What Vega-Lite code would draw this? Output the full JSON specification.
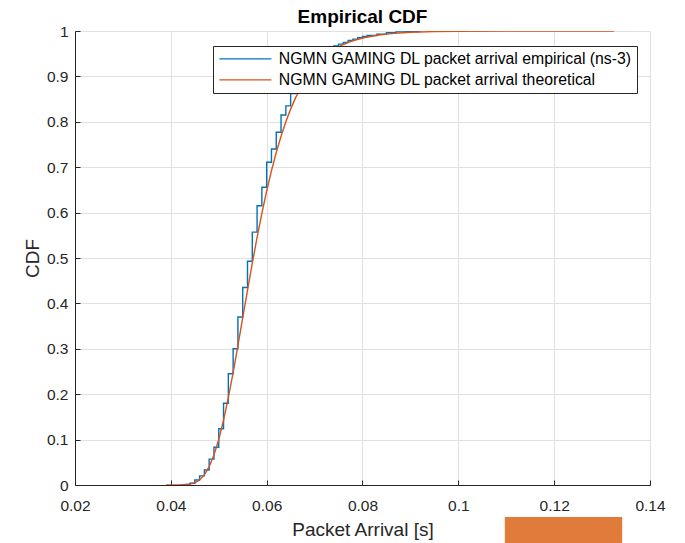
{
  "$schema": "https://vega.github.io/schema/vega-lite/v6.json",
  "autosize": "none",
  "width": 575,
  "height": 454,
  "padding": {"left": 75, "top": 31, "right": 35, "bottom": 58},
  "background": "white",
  "config": {
    "view": {"stroke": null},
    "font": "Liberation Sans",
    "axis": {
      "domainColor": "#262626",
      "tickColor": "#262626",
      "gridColor": "#e0e0e0",
      "labelColor": "#262626",
      "titleColor": "#262626",
      "labelFont": "Liberation Sans",
      "titleFont": "Liberation Sans",
      "labelFontSize": 15.5,
      "titleFontSize": 19,
      "titleFontWeight": "normal",
      "tickSize": -5,
      "domainWidth": 1,
      "tickWidth": 1
    }
  },
  "title": {
    "text": "Empirical CDF",
    "font": "Liberation Sans",
    "fontSize": 19,
    "fontWeight": "bold",
    "color": "#000000",
    "anchor": "middle",
    "offset": -3
  },
  "datasets": {
    "empirical": [
      {"x": 0.042, "y": 0.0, "series": "NGMN GAMING DL packet arrival empirical (ns-3)"},
      {"x": 0.043, "y": 0.001, "series": "NGMN GAMING DL packet arrival empirical (ns-3)"},
      {"x": 0.044, "y": 0.004, "series": "NGMN GAMING DL packet arrival empirical (ns-3)"},
      {"x": 0.045, "y": 0.011, "series": "NGMN GAMING DL packet arrival empirical (ns-3)"},
      {"x": 0.046, "y": 0.020, "series": "NGMN GAMING DL packet arrival empirical (ns-3)"},
      {"x": 0.047, "y": 0.033, "series": "NGMN GAMING DL packet arrival empirical (ns-3)"},
      {"x": 0.048, "y": 0.057, "series": "NGMN GAMING DL packet arrival empirical (ns-3)"},
      {"x": 0.049, "y": 0.083, "series": "NGMN GAMING DL packet arrival empirical (ns-3)"},
      {"x": 0.050, "y": 0.124, "series": "NGMN GAMING DL packet arrival empirical (ns-3)"},
      {"x": 0.051, "y": 0.180, "series": "NGMN GAMING DL packet arrival empirical (ns-3)"},
      {"x": 0.052, "y": 0.245, "series": "NGMN GAMING DL packet arrival empirical (ns-3)"},
      {"x": 0.053, "y": 0.300, "series": "NGMN GAMING DL packet arrival empirical (ns-3)"},
      {"x": 0.054, "y": 0.370, "series": "NGMN GAMING DL packet arrival empirical (ns-3)"},
      {"x": 0.055, "y": 0.435, "series": "NGMN GAMING DL packet arrival empirical (ns-3)"},
      {"x": 0.056, "y": 0.493, "series": "NGMN GAMING DL packet arrival empirical (ns-3)"},
      {"x": 0.057, "y": 0.557, "series": "NGMN GAMING DL packet arrival empirical (ns-3)"},
      {"x": 0.058, "y": 0.615, "series": "NGMN GAMING DL packet arrival empirical (ns-3)"},
      {"x": 0.059, "y": 0.656, "series": "NGMN GAMING DL packet arrival empirical (ns-3)"},
      {"x": 0.060, "y": 0.711, "series": "NGMN GAMING DL packet arrival empirical (ns-3)"},
      {"x": 0.061, "y": 0.740, "series": "NGMN GAMING DL packet arrival empirical (ns-3)"},
      {"x": 0.062, "y": 0.777, "series": "NGMN GAMING DL packet arrival empirical (ns-3)"},
      {"x": 0.063, "y": 0.815, "series": "NGMN GAMING DL packet arrival empirical (ns-3)"},
      {"x": 0.064, "y": 0.835, "series": "NGMN GAMING DL packet arrival empirical (ns-3)"},
      {"x": 0.065, "y": 0.862, "series": "NGMN GAMING DL packet arrival empirical (ns-3)"},
      {"x": 0.066, "y": 0.883, "series": "NGMN GAMING DL packet arrival empirical (ns-3)"},
      {"x": 0.067, "y": 0.902, "series": "NGMN GAMING DL packet arrival empirical (ns-3)"},
      {"x": 0.068, "y": 0.917, "series": "NGMN GAMING DL packet arrival empirical (ns-3)"},
      {"x": 0.069, "y": 0.930, "series": "NGMN GAMING DL packet arrival empirical (ns-3)"},
      {"x": 0.070, "y": 0.940, "series": "NGMN GAMING DL packet arrival empirical (ns-3)"},
      {"x": 0.071, "y": 0.949, "series": "NGMN GAMING DL packet arrival empirical (ns-3)"},
      {"x": 0.072, "y": 0.956, "series": "NGMN GAMING DL packet arrival empirical (ns-3)"},
      {"x": 0.073, "y": 0.962, "series": "NGMN GAMING DL packet arrival empirical (ns-3)"},
      {"x": 0.074, "y": 0.967, "series": "NGMN GAMING DL packet arrival empirical (ns-3)"},
      {"x": 0.075, "y": 0.971, "series": "NGMN GAMING DL packet arrival empirical (ns-3)"},
      {"x": 0.076, "y": 0.975, "series": "NGMN GAMING DL packet arrival empirical (ns-3)"},
      {"x": 0.077, "y": 0.979, "series": "NGMN GAMING DL packet arrival empirical (ns-3)"},
      {"x": 0.078, "y": 0.982, "series": "NGMN GAMING DL packet arrival empirical (ns-3)"},
      {"x": 0.079, "y": 0.985, "series": "NGMN GAMING DL packet arrival empirical (ns-3)"},
      {"x": 0.080, "y": 0.988, "series": "NGMN GAMING DL packet arrival empirical (ns-3)"},
      {"x": 0.081, "y": 0.990, "series": "NGMN GAMING DL packet arrival empirical (ns-3)"},
      {"x": 0.083, "y": 0.993, "series": "NGMN GAMING DL packet arrival empirical (ns-3)"},
      {"x": 0.085, "y": 0.996, "series": "NGMN GAMING DL packet arrival empirical (ns-3)"},
      {"x": 0.087, "y": 0.998, "series": "NGMN GAMING DL packet arrival empirical (ns-3)"},
      {"x": 0.089, "y": 0.999, "series": "NGMN GAMING DL packet arrival empirical (ns-3)"},
      {"x": 0.092, "y": 1.0, "series": "NGMN GAMING DL packet arrival empirical (ns-3)"}
    ],
    "theoretical": [
      {"x": 0.039, "y": 0.0, "series": "NGMN GAMING DL packet arrival theoretical"},
      {"x": 0.040, "y": 0.00001, "series": "NGMN GAMING DL packet arrival theoretical"},
      {"x": 0.041, "y": 0.00003, "series": "NGMN GAMING DL packet arrival theoretical"},
      {"x": 0.042, "y": 0.0002, "series": "NGMN GAMING DL packet arrival theoretical"},
      {"x": 0.043, "y": 0.0006, "series": "NGMN GAMING DL packet arrival theoretical"},
      {"x": 0.044, "y": 0.0019, "series": "NGMN GAMING DL packet arrival theoretical"},
      {"x": 0.045, "y": 0.0050, "series": "NGMN GAMING DL packet arrival theoretical"},
      {"x": 0.046, "y": 0.0113, "series": "NGMN GAMING DL packet arrival theoretical"},
      {"x": 0.047, "y": 0.0225, "series": "NGMN GAMING DL packet arrival theoretical"},
      {"x": 0.048, "y": 0.0403, "series": "NGMN GAMING DL packet arrival theoretical"},
      {"x": 0.049, "y": 0.0660, "series": "NGMN GAMING DL packet arrival theoretical"},
      {"x": 0.050, "y": 0.1002, "series": "NGMN GAMING DL packet arrival theoretical"},
      {"x": 0.051, "y": 0.1426, "series": "NGMN GAMING DL packet arrival theoretical"},
      {"x": 0.052, "y": 0.1923, "series": "NGMN GAMING DL packet arrival theoretical"},
      {"x": 0.053, "y": 0.2477, "series": "NGMN GAMING DL packet arrival theoretical"},
      {"x": 0.054, "y": 0.3069, "series": "NGMN GAMING DL packet arrival theoretical"},
      {"x": 0.055, "y": 0.3679, "series": "NGMN GAMING DL packet arrival theoretical"},
      {"x": 0.056, "y": 0.4289, "series": "NGMN GAMING DL packet arrival theoretical"},
      {"x": 0.057, "y": 0.4885, "series": "NGMN GAMING DL packet arrival theoretical"},
      {"x": 0.058, "y": 0.5453, "series": "NGMN GAMING DL packet arrival theoretical"},
      {"x": 0.059, "y": 0.5985, "series": "NGMN GAMING DL packet arrival theoretical"},
      {"x": 0.060, "y": 0.6476, "series": "NGMN GAMING DL packet arrival theoretical"},
      {"x": 0.061, "y": 0.6922, "series": "NGMN GAMING DL packet arrival theoretical"},
      {"x": 0.062, "y": 0.7324, "series": "NGMN GAMING DL packet arrival theoretical"},
      {"x": 0.063, "y": 0.7683, "series": "NGMN GAMING DL packet arrival theoretical"},
      {"x": 0.064, "y": 0.8000, "series": "NGMN GAMING DL packet arrival theoretical"},
      {"x": 0.065, "y": 0.8279, "series": "NGMN GAMING DL packet arrival theoretical"},
      {"x": 0.066, "y": 0.8522, "series": "NGMN GAMING DL packet arrival theoretical"},
      {"x": 0.067, "y": 0.8734, "series": "NGMN GAMING DL packet arrival theoretical"},
      {"x": 0.068, "y": 0.8917, "series": "NGMN GAMING DL packet arrival theoretical"},
      {"x": 0.069, "y": 0.9076, "series": "NGMN GAMING DL packet arrival theoretical"},
      {"x": 0.070, "y": 0.9212, "series": "NGMN GAMING DL packet arrival theoretical"},
      {"x": 0.072, "y": 0.9429, "series": "NGMN GAMING DL packet arrival theoretical"},
      {"x": 0.074, "y": 0.9588, "series": "NGMN GAMING DL packet arrival theoretical"},
      {"x": 0.076, "y": 0.9703, "series": "NGMN GAMING DL packet arrival theoretical"},
      {"x": 0.078, "y": 0.9786, "series": "NGMN GAMING DL packet arrival theoretical"},
      {"x": 0.080, "y": 0.9846, "series": "NGMN GAMING DL packet arrival theoretical"},
      {"x": 0.083, "y": 0.9906, "series": "NGMN GAMING DL packet arrival theoretical"},
      {"x": 0.086, "y": 0.9943, "series": "NGMN GAMING DL packet arrival theoretical"},
      {"x": 0.090, "y": 0.9971, "series": "NGMN GAMING DL packet arrival theoretical"},
      {"x": 0.095, "y": 0.9987, "series": "NGMN GAMING DL packet arrival theoretical"},
      {"x": 0.100, "y": 0.99945, "series": "NGMN GAMING DL packet arrival theoretical"},
      {"x": 0.110, "y": 0.9999, "series": "NGMN GAMING DL packet arrival theoretical"},
      {"x": 0.1325, "y": 1.0, "series": "NGMN GAMING DL packet arrival theoretical"}
    ],
    "patch": [
      {"x1": 0.1097, "x2": 0.1342, "y1": -0.0705, "y2": -0.13}
    ]
  },
  "layer": [
    {
      "data": {"name": "empirical"},
      "mark": {"type": "line", "interpolate": "step-after", "strokeWidth": 1.4, "clip": true},
      "encoding": {
        "x": {
          "field": "x", "type": "quantitative",
          "scale": {"domain": [0.02, 0.14], "nice": false, "zero": false},
          "axis": {
            "values": [0.02, 0.04, 0.06, 0.08, 0.1, 0.12, 0.14],
            "format": ".2~f",
            "title": "Packet Arrival [s]",
            "labelPadding": 18,
            "titlePadding": 7,
            "grid": true,
            "labelFlush": false
          }
        },
        "y": {
          "field": "y", "type": "quantitative",
          "scale": {"domain": [0, 1], "nice": false},
          "axis": {
            "values": [0, 0.1, 0.2, 0.3, 0.4, 0.5, 0.6, 0.7, 0.8, 0.9, 1],
            "format": ".1~f",
            "title": "CDF",
            "labelPadding": 12,
            "titlePadding": 4,
            "grid": true,
            "labelFlush": false
          }
        },
        "color": {
          "field": "series", "type": "nominal",
          "scale": {
            "domain": ["NGMN GAMING DL packet arrival empirical (ns-3)", "NGMN GAMING DL packet arrival theoretical"],
            "range": ["#0072BD", "#D95319"]
          },
          "legend": {
            "title": null,
            "orient": "none",
            "legendX": 138,
            "legendY": 15,
            "direction": "vertical",
            "symbolType": "M-1,0H7",
            "symbolSize": 169,
            "symbolStrokeWidth": 1.4,
            "labelFont": "Liberation Sans",
            "labelFontSize": 15.8,
            "labelColor": "#000000",
            "labelLimit": 600,
            "labelOffset": 45,
            "strokeColor": "#262626",
            "fillColor": "white",
            "padding": 5,
            "rowPadding": 4
          }
        }
      }
    },
    {
      "data": {"name": "theoretical"},
      "mark": {"type": "line", "strokeWidth": 1.4, "clip": true},
      "encoding": {
        "x": {"field": "x", "type": "quantitative"},
        "y": {"field": "y", "type": "quantitative"},
        "color": {"field": "series", "type": "nominal"}
      }
    },
    {
      "data": {"name": "patch"},
      "mark": {"type": "rect", "color": "#E07B3A", "clip": false},
      "encoding": {
        "x": {"field": "x1", "type": "quantitative"},
        "x2": {"field": "x2"},
        "y": {"field": "y1", "type": "quantitative"},
        "y2": {"field": "y2"}
      }
    }
  ]
}
